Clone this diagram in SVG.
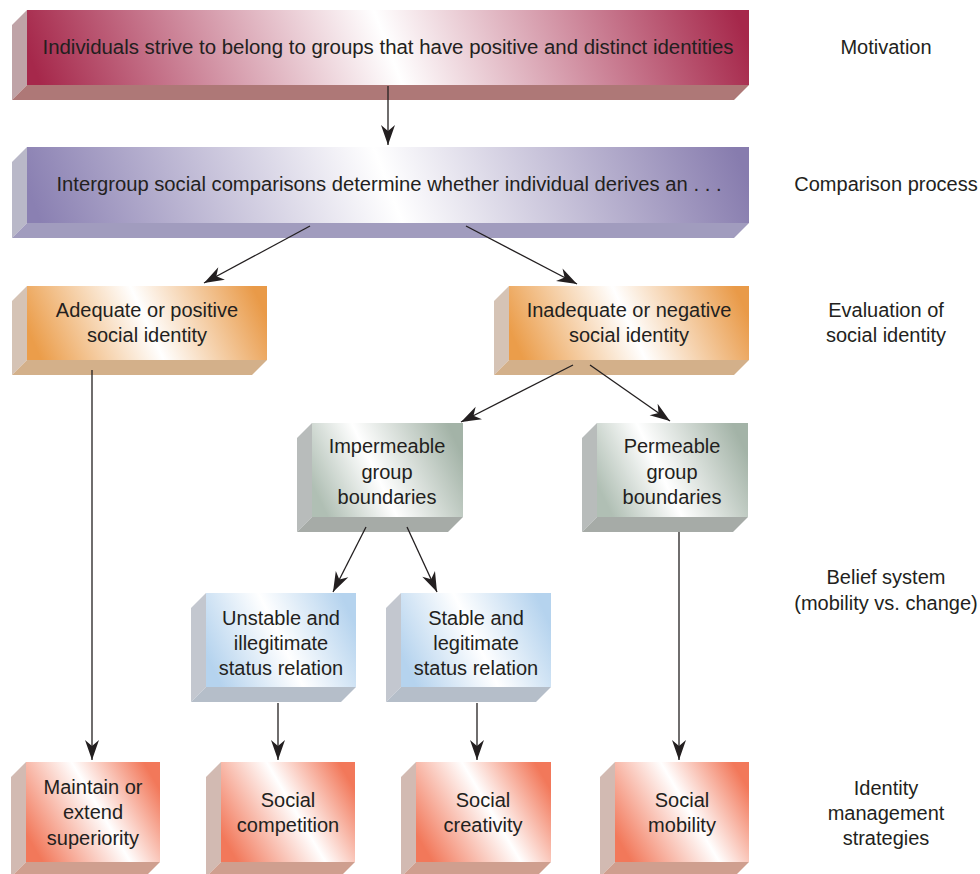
<svg xmlns="http://www.w3.org/2000/svg" width="980" height="874" viewBox="0 0 980 874">
<style>
text{font-family:"Liberation Sans",Arial,sans-serif;font-size:20px;fill:#231f20;text-anchor:middle}
.big{font-size:20px}
.con{stroke:#231f20;stroke-width:1.3;fill:none;marker-end:url(#ah)}
</style>
<defs>
<marker id="ah" markerUnits="userSpaceOnUse" markerWidth="24" markerHeight="16" viewBox="-21 -8 23 16" refX="0" refY="0" orient="auto">
<path d="M0,0 L-20,-7 L-14,0 L-20,7 Z" fill="#231f20"/>
</marker>
<linearGradient id="gMot" x1="0" y1="0.52" x2="1" y2="0.48"><stop offset="0" stop-color="#a6284b"/><stop offset="0.5" stop-color="#ffffff"/><stop offset="1" stop-color="#a6284b"/></linearGradient>
<linearGradient id="gCmp" x1="0" y1="0.52" x2="1" y2="0.48"><stop offset="0" stop-color="#8a80b2"/><stop offset="0.5" stop-color="#ffffff"/><stop offset="1" stop-color="#877cae"/></linearGradient>
<linearGradient id="gEval" x1="0" y1="0.57" x2="1" y2="0.43"><stop offset="0" stop-color="#eb9d4a"/><stop offset="0.5" stop-color="#ffffff"/><stop offset="1" stop-color="#e99a48"/></linearGradient>
<linearGradient id="gBound" x1="0" y1="0.65" x2="1" y2="0.35"><stop offset="0" stop-color="#b0bfb4"/><stop offset="0.42" stop-color="#ffffff"/><stop offset="1" stop-color="#a3b3a7"/></linearGradient>
<linearGradient id="gStat" x1="0" y1="0.65" x2="1" y2="0.35"><stop offset="0" stop-color="#b5d3ee"/><stop offset="0.5" stop-color="#ffffff"/><stop offset="1" stop-color="#b5d3ee"/></linearGradient>
<linearGradient id="gStrat" x1="0" y1="0.72" x2="1" y2="0.28"><stop offset="0" stop-color="#f2785a"/><stop offset="0.55" stop-color="#ffffff"/><stop offset="1" stop-color="#f2785a"/></linearGradient>
</defs>

<g id="motivation">
<polygon points="27,10 27,85 12,100 12,25" fill="#bfa3a7"/>
<polygon points="27,85 749,85 734,100 12,100" fill="#ae7877"/>
<rect x="27" y="10" width="722" height="75" fill="url(#gMot)"/>
<text class="big" x="388" y="54" textLength="691" lengthAdjust="spacingAndGlyphs">Individuals strive to belong to groups that have positive and distinct identities</text>
</g>

<g id="comparison">
<polygon points="27,147 27,223 12,238 12,162" fill="#b9b8c8"/>
<polygon points="27,223 749,223 734,238 12,238" fill="#a19cbe"/>
<rect x="27" y="147" width="722" height="76" fill="url(#gCmp)"/>
<text class="big" x="389" y="191" textLength="665" lengthAdjust="spacingAndGlyphs">Intergroup social comparisons determine whether individual derives an . . .</text>
</g>

<g id="adequate">
<polygon points="27,286 27,360 12,375 12,301" fill="#d5c3b5"/>
<polygon points="27,360 267,360 252,375 12,375" fill="#d3b08a"/>
<rect x="27" y="286" width="240" height="74" fill="url(#gEval)"/>
<text x="147" y="317">Adequate or positive</text>
<text x="147" y="342">social identity</text>
</g>

<g id="inadequate">
<polygon points="509,286 509,360 494,375 494,301" fill="#d5c3b5"/>
<polygon points="509,360 749,360 734,375 494,375" fill="#d3b08a"/>
<rect x="509" y="286" width="240" height="74" fill="url(#gEval)"/>
<text x="629" y="317">Inadequate or negative</text>
<text x="629" y="342">social identity</text>
</g>

<g id="impermeable">
<polygon points="312,423 312,517 297,532 297,438" fill="#b8bcbb"/>
<polygon points="312,517 463,517 448,532 297,532" fill="#a6aba7"/>
<rect x="312" y="423" width="151" height="94" fill="url(#gBound)"/>
<text x="387" y="453">Impermeable</text>
<text x="387" y="479">group</text>
<text x="387" y="504">boundaries</text>
</g>

<g id="permeable">
<polygon points="597,423 597,517 582,532 582,438" fill="#b8bcbb"/>
<polygon points="597,517 748,517 733,532 582,532" fill="#a6aba7"/>
<rect x="597" y="423" width="151" height="94" fill="url(#gBound)"/>
<text x="672" y="453">Permeable</text>
<text x="672" y="479">group</text>
<text x="672" y="504">boundaries</text>
</g>

<g id="unstable">
<polygon points="206,593 206,687 191,702 191,608" fill="#c3c7cf"/>
<polygon points="206,687 356,687 341,702 191,702" fill="#b5bec9"/>
<rect x="206" y="593" width="150" height="94" fill="url(#gStat)"/>
<text x="281" y="625">Unstable and</text>
<text x="281" y="650">illegitimate</text>
<text x="281" y="675">status relation</text>
</g>

<g id="stable">
<polygon points="401,593 401,687 386,702 386,608" fill="#c3c7cf"/>
<polygon points="401,687 551,687 536,702 386,702" fill="#b5bec9"/>
<rect x="401" y="593" width="150" height="94" fill="url(#gStat)"/>
<text x="476" y="625">Stable and</text>
<text x="476" y="650">legitimate</text>
<text x="476" y="675">status relation</text>
</g>

<g id="maintain">
<polygon points="26,762 26,862 11,877 11,777" fill="#d2bab2"/>
<polygon points="26,862 160,862 145,877 11,877" fill="#cf9f8f"/>
<rect x="26" y="762" width="134" height="100" fill="url(#gStrat)"/>
<text x="93" y="794">Maintain or</text>
<text x="93" y="819">extend</text>
<text x="93" y="845">superiority</text>
</g>

<g id="competition">
<polygon points="221,762 221,862 206,877 206,777" fill="#d2bab2"/>
<polygon points="221,862 355,862 340,877 206,877" fill="#cf9f8f"/>
<rect x="221" y="762" width="134" height="100" fill="url(#gStrat)"/>
<text x="288" y="807">Social</text>
<text x="288" y="832">competition</text>
</g>

<g id="creativity">
<polygon points="416,762 416,862 401,877 401,777" fill="#d2bab2"/>
<polygon points="416,862 551,862 536,877 401,877" fill="#cf9f8f"/>
<rect x="416" y="762" width="135" height="100" fill="url(#gStrat)"/>
<text x="483" y="807">Social</text>
<text x="483" y="832">creativity</text>
</g>

<g id="mobility">
<polygon points="615,762 615,862 600,877 600,777" fill="#d2bab2"/>
<polygon points="615,862 749,862 734,877 600,877" fill="#cf9f8f"/>
<rect x="615" y="762" width="134" height="100" fill="url(#gStrat)"/>
<text x="682" y="807">Social</text>
<text x="682" y="832">mobility</text>
</g>

<g id="labels">
<text x="886" y="54">Motivation</text>
<text x="886" y="191">Comparison process</text>
<text x="886" y="317">Evaluation of</text>
<text x="886" y="342">social identity</text>
<text x="886" y="584">Belief system</text>
<text x="886" y="610">(mobility vs. change)</text>
<text x="886" y="795">Identity</text>
<text x="886" y="820">management</text>
<text x="886" y="845">strategies</text>
</g>

<g id="connectors">
<line class="con" x1="388" y1="86" x2="388" y2="145"/>
<line class="con" x1="310" y1="226" x2="204" y2="283"/>
<line class="con" x1="466" y1="226" x2="577" y2="284"/>
<line class="con" x1="92" y1="370" x2="92" y2="760"/>
<line class="con" x1="573" y1="365" x2="461" y2="422"/>
<line class="con" x1="590" y1="365" x2="670" y2="421"/>
<line class="con" x1="366" y1="527" x2="333" y2="592"/>
<line class="con" x1="407" y1="527" x2="437" y2="592"/>
<line class="con" x1="679" y1="532" x2="679" y2="760"/>
<line class="con" x1="278" y1="703" x2="278" y2="760"/>
<line class="con" x1="477" y1="703" x2="477" y2="760"/>
</g>
</svg>
